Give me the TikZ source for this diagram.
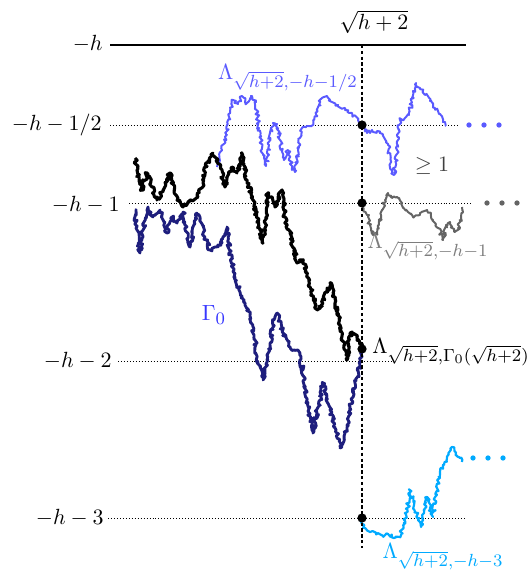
\documentclass[tikz,border=0pt]{standalone}
\usepackage{amsmath}
\usetikzlibrary{decorations.pathmorphing}
\DeclareMathSizes{10}{10}{8}{6}
\definecolor{LamBlue}{RGB}{90,90,255}
\definecolor{GamBlue}{RGB}{55,55,255}
\definecolor{GamNavy}{RGB}{30,30,125}
\definecolor{LamGray}{RGB}{100,100,100}
\definecolor{LabGray}{RGB}{125,125,125}
\definecolor{LamCyan}{RGB}{0,170,255}

\begin{document}
\begin{tikzpicture}[x=0.455pt,y=-0.455pt,
  lvl/.style={line width=0.4pt,dash pattern=on 0.45pt off 0.9pt},
  bm/.style={line width=#1,line join=round,decorate,
             decoration={random steps,segment length=0.8pt,amplitude=0.9pt}},
  bdot/.style={circle,fill,inner sep=0pt,minimum size=4.2pt},
  lab/.style={anchor=base east,inner sep=0pt},
]
\useasboundingbox (0,0) rectangle (528,573);
\pgfmathsetseed{11}

% levels
\node[lab] (lh) at (103,51) {$-h$};
\node[lab] (lh1) at (102,131) {$-h-1/2$};
\node[lab] (lh2) at (120,212) {$-h-1$};
\node[lab] (lh3) at (112,367) {$-h-2$};
\node[lab] (lh4) at (104,524) {$-h-3$};
\node[inner sep=0pt,anchor=base] (top) at (374,30) {$\sqrt{h+2}$};

\draw[line width=0.9pt] (110,45) -- (466,45);
\draw[lvl] (110,125) -- (460,125);
\draw[lvl] (129,203) -- (473,203);
\draw[lvl] (118,361) -- (393,361);
\draw[lvl] (108,518) -- (467,518);

% paths
\draw[bm=0.9pt,LamBlue] (217,167) -- (222,150) -- (226,135) -- (230,112) -- (233,100)
  -- (238,104) -- (242,96) -- (247,103) -- (251,96) -- (256,102) -- (259,128)
  -- (263,155) -- (266,166) -- (269,145) -- (273,123) -- (277,124) -- (280,140)
  -- (284,160) -- (288,150) -- (292,166) -- (295,172) -- (298,150) -- (302,128)
  -- (307,126) -- (313,125) -- (317,110) -- (322,98) -- (327,96) -- (332,102)
  -- (338,105) -- (345,110) -- (352,113) -- (358,120) -- (362,125) -- (367,133)
  -- (372,130) -- (377,131) -- (383,136) -- (388,145) -- (392,170) -- (394,175)
  -- (397,150) -- (400,120) -- (405,118) -- (409,115) -- (413,95) -- (416,83)
  -- (420,88) -- (425,95) -- (430,101) -- (435,108) -- (440,114) -- (443,122)
  -- (446,126);

\draw[bm=1.3pt,GamNavy] (135,210) -- (137,230) -- (140,253) -- (143,230) -- (148,207)
  -- (153,217) -- (160,210) -- (167,233) -- (172,217) -- (177,223) -- (183,212)
  -- (190,247) -- (197,213) -- (200,217) -- (205,237) -- (210,250) -- (215,247)
  -- (222,243) -- (227,227) -- (230,253) -- (235,277) -- (240,292) -- (245,305)
  -- (250,316) -- (254,335) -- (257,357) -- (263,380) -- (267,360) -- (270,347)
  -- (274,320) -- (277,313) -- (283,333) -- (290,347) -- (295,350) -- (300,353)
  -- (304,380) -- (307,400) -- (313,433) -- (317,412) -- (320,400) -- (323,383)
  -- (330,410) -- (337,433) -- (340,448) -- (344,436) -- (347,427) -- (350,407)
  -- (355,383) -- (360,367) -- (362,349);

\draw[bm=1.4pt,black] (135,158) -- (137,170) -- (142,190) -- (147,173) -- (152,187)
  -- (157,200) -- (163,190) -- (170,173) -- (177,200) -- (183,207) -- (190,200)
  -- (198,197) -- (203,183) -- (207,163) -- (213,153) -- (218,160) -- (225,187)
  -- (232,167) -- (237,173) -- (242,153) -- (247,180) -- (253,200) -- (260,230)
  -- (263,243) -- (268,193) -- (275,207) -- (282,190) -- (285,217) -- (290,233)
  -- (297,263) -- (303,260) -- (310,287) -- (317,310) -- (323,303) -- (330,283)
  -- (335,303) -- (340,325) -- (344,345) -- (347,360) -- (350,333) -- (357,337)
  -- (362,349);

\draw[bm=0.9pt,LamGray] (362,203) -- (367,215) -- (370,225) -- (373,235) -- (377,233)
  -- (381,215) -- (385,200) -- (388,193) -- (392,198) -- (397,197) -- (402,203)
  -- (408,212) -- (413,217) -- (420,213) -- (427,210) -- (433,220) -- (438,228)
  -- (443,240) -- (446,225) -- (450,222) -- (455,232) -- (458,228) -- (461,218)
  -- (462,207);

\draw[bm=1pt,LamCyan] (362,518) -- (365,528) -- (370,532) -- (376,533) -- (382,535)
  -- (388,534) -- (394,538) -- (400,537) -- (404,525) -- (408,505) -- (410,490)
  -- (414,505) -- (418,520) -- (421,527) -- (424,510) -- (427,497) -- (430,508)
  -- (433,517) -- (436,495) -- (440,472) -- (444,465) -- (448,455) -- (452,447)
  -- (456,455) -- (460,458) -- (462,462);

% vertical line and start points
\draw[line width=0.9pt,dash pattern=on 1.55pt off 1.1pt] (362,45) -- (362,548);
\node[bdot] (sA) at (362,125) {};
\node[bdot] (sB) at (362,203) {};
\node[bdot] (sC) at (362,349) {};
\node[bdot] (sD) at (362,518) {};

\foreach \x in {469,484,499} \fill[LamBlue] (\x,125) circle (1.2pt);
\foreach \x in {487,502,517} \fill[LamGray] (\x,203) circle (1.2pt);
\foreach \x in {473,488,503} \fill[LamCyan] (\x,458) circle (1.2pt);

% labels
\node[LamBlue] (lamA) at (288,78) {$\Lambda_{\sqrt{h+2},-h-1/2}$};
\node[LabGray] (lamB) at (428,247) {$\Lambda_{\sqrt{h+2},-h-1}$};
\node (lamC) at (451,352) {$\Lambda_{\sqrt{h+2},\Gamma_0(\sqrt{h+2})}$};
\node[LamCyan] (lamD) at (443,557) {$\Lambda_{\sqrt{h+2},-h-3}$};
\node[GamBlue] (gam) at (214,315) {$\Gamma_0$};
\node[black!75] (geq) at (432,166) {$\geq 1$};
\end{tikzpicture}
\end{document}
